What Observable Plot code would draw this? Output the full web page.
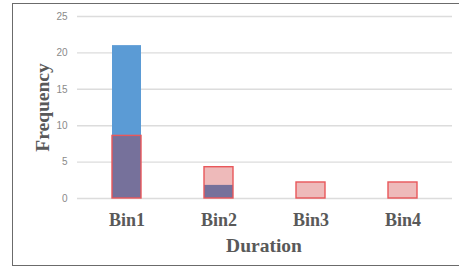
<!DOCTYPE html>
<html>
<head>
<meta charset="utf-8">
<script src="https://cdn.jsdelivr.net/npm/d3@7"></script>
<script src="https://cdn.jsdelivr.net/npm/@observablehq/plot@0.6"></script>
<style>
  html, body { margin: 0; padding: 0; background: #fff; overflow: hidden; }
  #wrap { position: relative; width: 459px; height: 267px; }
  #frame { position: absolute; left: 12px; top: 3px; width: 460px; height: 261px;
           border: 1.3px solid #6b6b6b; border-right: none; pointer-events: none; }
</style>
</head>
<body>
<div id="wrap"><div id="frame"></div></div>
<script>
const bins = ["Bin1", "Bin2", "Bin3", "Bin4"];
const seriesBlue = [21, 1.8, 0, 0];
const seriesPink = [8.6, 4.3, 2.2, 2.2];
const yTicks = [0, 5, 10, 15, 20, 25];
const xTitle = "Duration";
const yTitle = "Frequency";

const blueData = bins.map((b, i) => ({bin: b, value: seriesBlue[i]})).filter(d => d.value > 0);
const pinkData = bins.map((b, i) => ({bin: b, value: seriesPink[i]}));

const serif = "'Liberation Serif', 'Times New Roman', serif";

const chart = Plot.plot({
  width: 459,
  height: 267,
  marginLeft: 77,
  marginRight: 7,
  marginTop: 16,
  marginBottom: 69,
  style: {background: "transparent", overflow: "visible"},
  x: {type: "band", domain: bins, paddingInner: 0.688, paddingOuter: 0.362},
  y: {domain: [0, 25]},
  marks: [
    Plot.ruleY(yTicks, {stroke: "#dcdcdc", strokeWidth: 1.4}),
    Plot.axisY({ticks: yTicks, tickSize: 0, tickPadding: 10, fontSize: 10,
      fontFamily: "'Liberation Sans', Arial, sans-serif", fill: "#8a8a8a", label: null}),
    Plot.axisX({tickSize: 0, tickPadding: 15, fontSize: 18, fontWeight: "bold",
      fontFamily: serif, fill: "#595959", label: null}),
    Plot.barY(blueData, {x: "bin", y: "value", fill: "#5B9BD5"}),
    Plot.barY(pinkData, {x: "bin", y: "value", fill: "#C00000", fillOpacity: 0.27,
      stroke: "#E8575A", strokeWidth: 1.4}),
    Plot.text([xTitle], {frameAnchor: "bottom", dy: 47, dx: -1, text: d => d, fontSize: 19.5,
      fontWeight: "bold", fontFamily: serif, fill: "#595959", lineAnchor: "middle", textAnchor: "middle"}),
    Plot.text([yTitle], {frameAnchor: "left", dx: -35, text: d => d, rotate: -90, fontSize: 19.5,
      fontWeight: "bold", fontFamily: serif, fill: "#595959", lineAnchor: "middle", textAnchor: "middle"})
  ]
});
document.getElementById("wrap").prepend(chart);
</script>
</body>
</html>
